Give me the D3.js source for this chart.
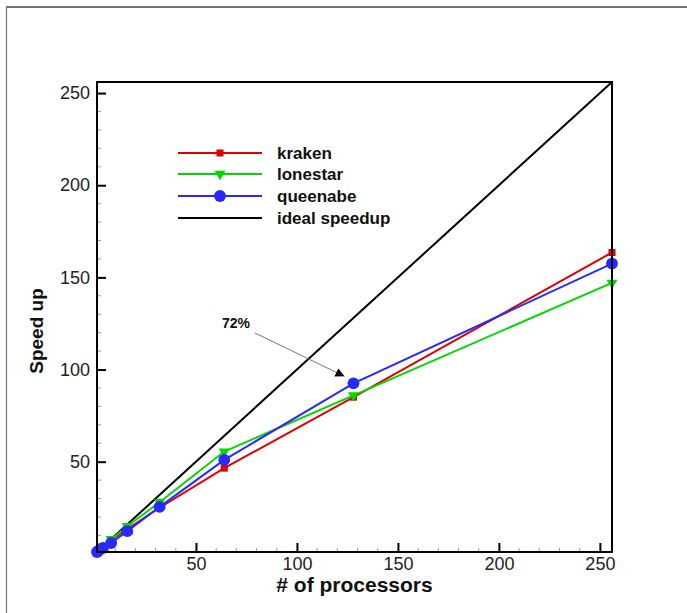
<!DOCTYPE html>
<html><head><meta charset="utf-8">
<script src="https://cdn.jsdelivr.net/npm/d3@7"></script>
<style>body{margin:0;background:#fff}svg{display:block}text{font-family:"Liberation Sans",Arial,sans-serif}</style>
</head><body>
<script>
const processors = [1, 2, 4, 8, 16, 32, 64, 128, 256];
const kraken   = [1, 2, 3.9, 7.4, 13.5, 25, 46.5, 85, 163.5];
const lonestar = [1, 2, 4, 7.9, 15, 28, 55.5, 86, 147];
const queenabe = [1, 1.9, 3.2, 5.9, 12.3, 25.5, 51, 92.5, 157.5];
const ideal    = [1, 256];
const xTicks = [50, 100, 150, 200, 250];
const yTicks = [50, 100, 150, 200, 250];
const seriesNames = ["kraken", "lonestar", "queenabe", "ideal speedup"];
const seriesColors = ["#e00000", "#00d800", "#2828ff", "#000000"];

const W = 687, H = 613;
const svg = d3.select("body").append("svg").attr("width", W).attr("height", H);

// outer frame (top and left edges)
svg.append("line").attr("x1", 6).attr("y1", 7).attr("x2", W).attr("y2", 7).attr("stroke", "#444").attr("stroke-width", 1.5);
svg.append("line").attr("x1", 6.5).attr("y1", 7).attr("x2", 6.5).attr("y2", H).attr("stroke", "#777").attr("stroke-width", 1.2);

const L = 97, R = 612, T = 82, B = 552;
const x = d3.scaleLinear().domain([1, 256]).range([L, R]);
const y = d3.scaleLinear().domain([1, 256]).range([B, T]);

// minor ticks
const minor = d3.range(10, 256, 10).filter(v => v % 50 !== 0);
const g = svg.append("g");
g.selectAll(".mx").data(minor).enter().append("line")
  .attr("x1", d => x(d)).attr("x2", d => x(d)).attr("y1", B).attr("y2", B - 4)
  .attr("stroke", "#999").attr("stroke-width", 1);
g.selectAll(".my").data(minor).enter().append("line")
  .attr("y1", d => y(d)).attr("y2", d => y(d)).attr("x1", L).attr("x2", L + 4)
  .attr("stroke", "#999").attr("stroke-width", 1);

// major axes
const xAxis = d3.axisBottom(x).tickValues(xTicks).tickSize(-9).tickPadding(5);
const yAxis = d3.axisLeft(y).tickValues(yTicks).tickSize(-9).tickPadding(7);
const gx = svg.append("g").attr("transform", `translate(0,${B})`).call(xAxis);
const gy = svg.append("g").attr("transform", `translate(${L},0)`).call(yAxis);
[gx, gy].forEach(a => {
  a.select(".domain").remove();
  a.selectAll(".tick line").attr("stroke", "#000").attr("stroke-width", 2);
  a.selectAll(".tick text").attr("font-size", 18).attr("fill", "#222").attr("font-family", "Liberation Sans, Arial, sans-serif");
});

// ideal line
const line = d3.line().x(d => x(d[0])).y(d => y(d[1]));
svg.append("path").datum(ideal.map(v => [v, v])).attr("d", line)
  .attr("fill", "none").attr("stroke", "#000").attr("stroke-width", 2);

const data = [kraken, lonestar, queenabe];
const sym = [d3.symbolSquare, d3.symbolTriangle, d3.symbolCircle];
const symSize = [50, 52, 110];
data.forEach((vals, i) => {
  const pts = processors.map((p, j) => [p, vals[j]]);
  svg.append("path").datum(pts).attr("d", line)
    .attr("fill", "none").attr("stroke", seriesColors[i]).attr("stroke-width", 2);
  svg.selectAll(null).data(pts).enter().append("path")
    .attr("d", d3.symbol().type(sym[i]).size(symSize[i]))
    .attr("transform", d => `translate(${x(d[0])},${y(d[1])})` + (i === 1 ? " rotate(180)" : ""))
    .attr("fill", seriesColors[i]);
});

// plot frame
svg.append("rect").attr("x", L).attr("y", T).attr("width", R - L).attr("height", B - T)
  .attr("fill", "none").attr("stroke", "#000").attr("stroke-width", 2);

// legend
const legY = [153, 174, 196, 218];
const lg = svg.append("g");
seriesNames.forEach((n, i) => {
  lg.append("line").attr("x1", 178).attr("x2", 262).attr("y1", legY[i]).attr("y2", legY[i])
    .attr("stroke", seriesColors[i]).attr("stroke-width", 2);
  if (i < 3) {
    lg.append("path").attr("d", d3.symbol().type(sym[i]).size(symSize[i]))
      .attr("transform", `translate(220,${legY[i]})` + (i === 1 ? " rotate(180)" : ""))
      .attr("fill", seriesColors[i]);
  }
  lg.append("text").attr("x", 277).attr("y", legY[i] + 6).attr("font-size", 17).attr("font-weight", "bold")
    .attr("fill", "#111").text(n);
});

// annotation
const defs = svg.append("defs");
defs.append("marker").attr("id", "ah").attr("viewBox", "0 0 10 10").attr("refX", 10).attr("refY", 5)
  .attr("markerWidth", 14).attr("markerHeight", 9).attr("markerUnits", "userSpaceOnUse").attr("orient", "auto")
  .append("path").attr("d", "M0,0 L10,5 L0,10 Z").attr("fill", "#000");
svg.append("text").attr("x", 222).attr("y", 328).attr("font-size", 14).attr("font-weight", "bold").attr("fill", "#111").text("72%");
svg.append("line").attr("x1", 255).attr("y1", 333).attr("x2", x(128) - 9).attr("y2", y(92.5) - 7)
  .attr("stroke", "#777").attr("stroke-width", 1).attr("marker-end", "url(#ah)");

// axis titles
svg.append("text").attr("x", (L + R) / 2).attr("y", 592).attr("text-anchor", "middle")
  .attr("font-size", 21).attr("font-weight", "bold").attr("fill", "#111").text("# of processors");
svg.append("text").attr("transform", "translate(43,331) rotate(-90)").attr("text-anchor", "middle")
  .attr("font-size", 19).attr("font-weight", "bold").attr("fill", "#111").text("Speed up");
</script>
</body></html>
